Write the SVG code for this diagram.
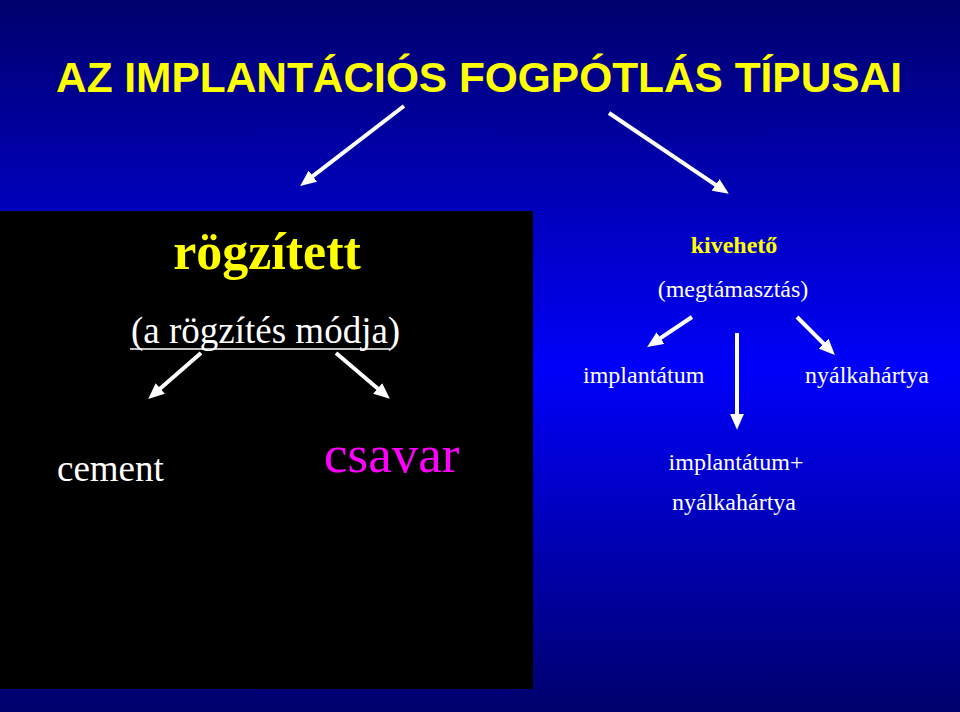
<svg xmlns="http://www.w3.org/2000/svg" width="960" height="712" viewBox="0 0 960 712">
<defs>
<linearGradient id="bg" x1="0" y1="0" x2="0" y2="1">
<stop offset="0" stop-color="#00006c"/>
<stop offset="0.52" stop-color="#0000fa"/>
<stop offset="1" stop-color="#00006c"/>
</linearGradient>
<marker id="ah" markerUnits="userSpaceOnUse" viewBox="0 0 16 14" markerWidth="16" markerHeight="14" refX="5" refY="7" orient="auto">
<path d="M0,0 L16,7 L0,14 z" fill="#ffffff"/>
</marker>
</defs>
<style>
.title{font-family:"Liberation Sans",Arial,sans-serif;font-weight:bold;font-size:42px;fill:#ffff00}
.serif{font-family:"Liberation Serif","Times New Roman",serif;fill:#ffffff}
.bold{font-weight:bold;fill:#ffff00}
.arr{stroke:#ffffff;stroke-width:4;fill:none;marker-end:url(#ah)}
</style>
<rect x="0" y="0" width="960" height="712" fill="url(#bg)"/>
<rect x="0" y="211" width="533" height="478" fill="#000000"/>

<g id="title">
<text class="title" x="56" y="92" textLength="846" lengthAdjust="spacingAndGlyphs">AZ IMPLANTÁCIÓS FOGPÓTLÁS TÍPUSAI</text>
</g>

<g id="connectors">
<line class="arr" x1="404" y1="106" x2="308.9" y2="179.2" stroke-width="3.5"/>
<line class="arr" x1="609" y1="113" x2="719.7" y2="187.7" stroke-width="3.5"/>
<line class="arr" x1="201" y1="353" x2="156.5" y2="391.7"/>
<line class="arr" x1="336" y1="353" x2="381.5" y2="391.7"/>
<line class="arr" x1="692" y1="317" x2="656.3" y2="340.8"/>
<line class="arr" x1="737" y1="333" x2="737" y2="418.8"/>
<line class="arr" x1="797" y1="317" x2="827.1" y2="347.1"/>
</g>

<g id="rogzitett">
<text class="serif bold" x="267" y="269" font-size="52" text-anchor="middle">rögzített</text>
</g>
<g id="rogzites-modja">
<text class="serif" x="131" y="343" font-size="37">(a rögzítés módja)</text>
<line x1="130" y1="349" x2="390" y2="349" stroke="#ffffff" stroke-width="1.6"/>
</g>
<g id="cement">
<text class="serif" x="57" y="481" font-size="37">cement</text>
</g>
<g id="csavar">
<text class="serif" x="324" y="472" font-size="53" fill="#ff00ff" style="fill:#ff00ff">csavar</text>
</g>
<g id="kiveheto">
<text class="serif bold" x="734" y="253" font-size="24" text-anchor="middle">kivehető</text>
</g>
<g id="megtamasztas">
<text class="serif" x="733" y="297" font-size="24" text-anchor="middle">(megtámasztás)</text>
</g>
<g id="implantatum">
<text class="serif" x="583" y="383" font-size="24">implantátum</text>
</g>
<g id="nyalkahartya">
<text class="serif" x="805" y="383" font-size="24">nyálkahártya</text>
</g>
<g id="implantatum-nyalkahartya">
<text class="serif" x="736" y="470" font-size="24" text-anchor="middle">implantátum+</text>
<text class="serif" x="734" y="510" font-size="24" text-anchor="middle">nyálkahártya</text>
</g>
</svg>
